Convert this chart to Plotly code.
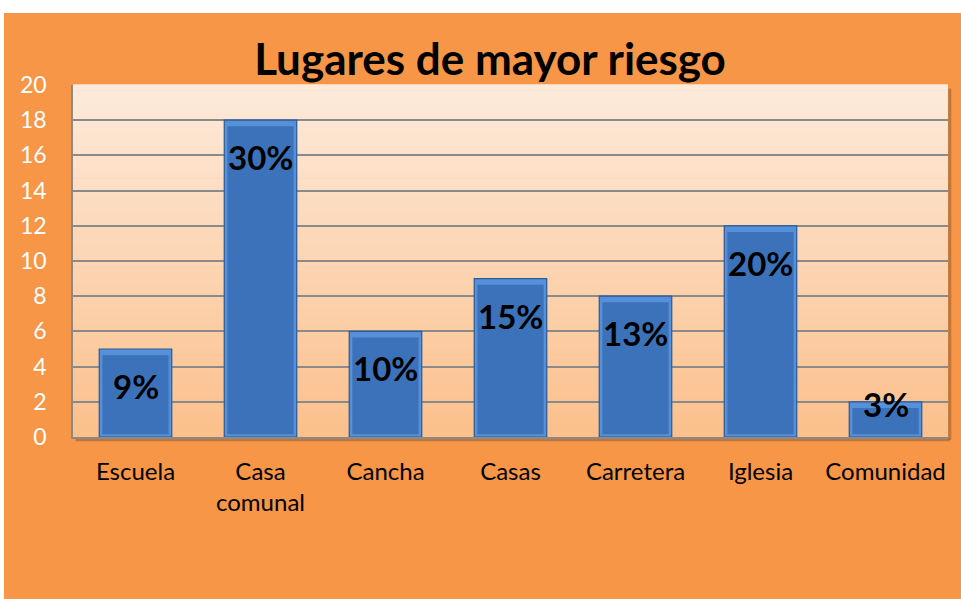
import plotly.graph_objects as go

categories = ["Escuela", "Casa<br>comunal", "Cancha", "Casas", "Carretera", "Iglesia", "Comunidad"]
values = [5, 18, 6, 9, 8, 12, 2]
pct_labels = ["9%", "30%", "10%", "15%", "13%", "20%", "3%"]
y_ticks = list(range(0, 21, 2))

W, H = 961, 599
L, R, T, B = 73, 13, 85, 162
pw, ph = W - L - R, H - T - B

def px_x(x):
    return (x - L) / pw

def px_y(y):
    return (H - B - y) / ph

fig = go.Figure()
# outer bar (bevel rim)
fig.add_trace(go.Bar(
    x=categories, y=values, width=0.58,
    marker=dict(color="#5690D8", line=dict(color="#2B5A96", width=1.2)),
    hoverinfo="skip",
))
# inner face
fig.add_trace(go.Bar(
    x=categories, y=[v - 0.5 for v in values], base=0.15, width=0.53,
    marker=dict(color="#3B72BA", line=dict(width=0)),
    hoverinfo="skip",
))

shapes = []
shapes.append(dict(type="rect", xref="paper", yref="paper",
                   x0=px_x(4), x1=px_x(W + 5), y0=px_y(H + 5), y1=px_y(13),
                   fillcolor="#F79646", line=dict(width=0), layer="below"))
n = 60
c_top = (253, 234, 218)
c_bot = (251, 192, 140)
for i in range(n):
    t = i / (n - 1)
    c = tuple(round(c_bot[k] + (c_top[k] - c_bot[k]) * t) for k in range(3))
    shapes.append(dict(type="rect", xref="x domain", yref="y domain",
                       x0=0, x1=1, y0=i / n, y1=(i + 1) / n + 0.002,
                       fillcolor="rgb(%d,%d,%d)" % c, line=dict(width=0), layer="below"))
shapes.append(dict(type="line", xref="x domain", yref="y domain", x0=1.002, x1=1.002, y0=-0.008, y1=0.99,
                   line=dict(color="rgba(120,80,50,0.45)", width=3), layer="below"))
shapes.append(dict(type="line", xref="x domain", yref="y domain", x0=0.003, x1=1.002, y0=-0.008, y1=-0.008,
                   line=dict(color="rgba(120,80,50,0.45)", width=3), layer="below"))
fig.update_layout(shapes=shapes)

for cat, v, lab in zip(categories, values, pct_labels):
    ly = v - 2.1 if v - 2.1 >= 1.2 else v - 0.1
    fig.add_annotation(x=cat, y=ly, text="<b>%s</b>" % lab, showarrow=False,
                       font=dict(family="Lato", size=33, color="black"), yanchor="middle")

fig.update_layout(
    width=W, height=H,
    margin=dict(l=L, r=R, t=T, b=B),
    paper_bgcolor="white",
    plot_bgcolor="rgba(0,0,0,0)",
    showlegend=False,
    barmode="overlay",
    title=dict(text="<b>Lugares de mayor riesgo</b>", xref="container", x=490 / W, xanchor="center",
               yref="container", y=1 - 60 / H, yanchor="middle",
               font=dict(family="Lato", size=44, color="black")),
)
fig.update_yaxes(range=[0, 20], tickvals=y_ticks, showgrid=True, gridcolor="#8A8A8A", gridwidth=1.5,
                 zeroline=False, showline=True, linecolor="#8A8A8A", linewidth=1.5,
                 tickfont=dict(family="Lato", size=23, color="white"),
                 ticks="outside", ticklen=20, tickcolor="rgba(0,0,0,0)")
fig.update_xaxes(showline=True, linecolor="#8A8A8A", linewidth=1.5,
                 tickfont=dict(family="Lato", size=24, color="black"),
                 ticks="outside", ticklen=12, tickcolor="rgba(0,0,0,0)", range=[-0.5, 6.5])

fig.write_html("out.html", config={"displayModeBar": False},
               post_script="document.body.style.margin='0';document.body.style.overflow='hidden';")
